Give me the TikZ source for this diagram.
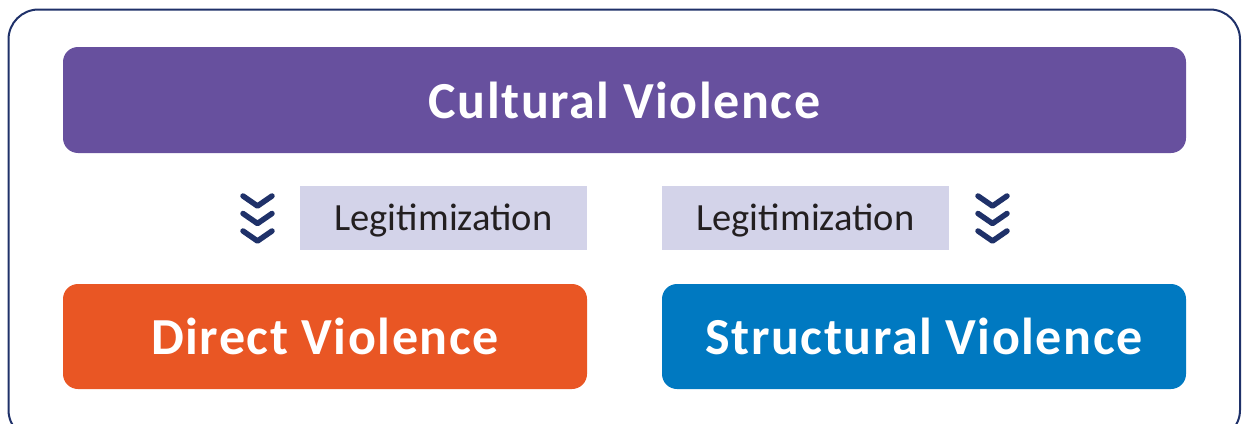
\documentclass[tikz,border=0pt]{standalone}
\usepackage{fontspec}
\setmainfont{Carlito}
\definecolor{navy}{HTML}{1F3169}
\definecolor{cpurple}{HTML}{67509E}
\definecolor{corange}{HTML}{E95624}
\definecolor{cblue}{HTML}{0079C1}
\definecolor{clav}{HTML}{D3D3E9}
\definecolor{ctext}{HTML}{231F20}
\begin{document}
\begin{tikzpicture}[x=1pt,y=-1pt,
  bigbox/.style={rounded corners=15pt, inner sep=0pt, text=white,
    font=\fontsize{52}{60}\selectfont\bfseries\addfontfeatures{LetterSpace=3}},
  legbox/.style={fill=clav, inner sep=0pt, text=ctext, text height=30pt, text depth=6pt,
    font=\fontsize{38.5}{44}\selectfont},
  chev/.style={draw=navy, line width=5.5pt, line cap=round, line join=round}]
\useasboundingbox (0,0) rectangle (1242,423);
\draw[navy, line width=2pt, rounded corners=30pt] (8.5,9.5) rectangle (1240,440);
\node[bigbox, fill=cpurple, minimum width=1123pt, minimum height=106pt] (cult) at (624.5,100) {Cultural Violence};
\node[bigbox, fill=corange, minimum width=524pt, minimum height=105pt] (dir) at (325,336.5) {Direct Violence};
\node[bigbox, fill=cblue, minimum width=524pt, minimum height=105pt] (str) at (924,336.5) {Structural Violence};
\node[legbox, minimum width=287pt, minimum height=64pt] (legl) at (443.5,218) {Legitimization};
\node[legbox, minimum width=287pt, minimum height=64pt] (legr) at (805.5,218) {Legitimization};
\foreach \cx in {257.5, 992.5}{
  \foreach \yy in {196,213.5,231}{
    \draw[chev] (\cx-14.5,\yy) -- (\cx,\yy+10) -- (\cx+14.5,\yy);
  }
}
\end{tikzpicture}
\end{document}
